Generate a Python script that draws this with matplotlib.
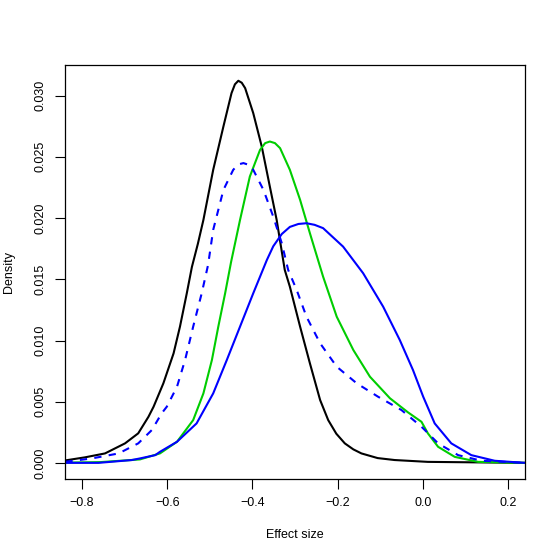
import matplotlib
matplotlib.use('Agg')
import matplotlib.pyplot as plt

plt.rcParams['font.family'] = ['Liberation Sans', 'DejaVu Sans']

# density curves (effect size, density)
black_x = [-0.839, -0.793, -0.746, -0.699, -0.668, -0.644, -0.632, -0.609, -0.585,
           -0.570, -0.554, -0.542, -0.528, -0.515, -0.492, -0.468, -0.449, -0.441,
           -0.433, -0.425, -0.417, -0.398, -0.378, -0.359, -0.343, -0.324, -0.312,
           -0.288, -0.265, -0.241, -0.222, -0.203, -0.183, -0.163, -0.144, -0.106,
           -0.066, 0.012, 0.239]
black_y = [0.00022, 0.00047, 0.00079, 0.00161, 0.00243, 0.00378, 0.0046, 0.00651, 0.00896,
           0.01114, 0.01386, 0.01601, 0.0179, 0.01985, 0.02394, 0.02748, 0.0302, 0.03092,
           0.03121, 0.03105, 0.03061, 0.02857, 0.02584, 0.02257, 0.01985, 0.01577, 0.0144,
           0.01114, 0.00815, 0.00515, 0.00351, 0.0024, 0.00161, 0.00112, 0.00079, 0.00041,
           0.00025, 0.0001, 0.00002]

green_x = [-0.839, -0.757, -0.664, -0.617, -0.577, -0.539, -0.515, -0.495, -0.480,
           -0.464, -0.450, -0.429, -0.406, -0.382, -0.370, -0.359, -0.347, -0.335,
           -0.312, -0.288, -0.265, -0.234, -0.202, -0.163, -0.124, -0.077, -0.035,
           -0.003, 0.012, 0.036, 0.075, 0.130, 0.239]
green_y = [0.00004, 0.00008, 0.0003, 0.00079, 0.00174, 0.00351, 0.00569, 0.00842, 0.01114,
           0.01386, 0.01642, 0.01985, 0.02339, 0.02557, 0.02612, 0.02625, 0.02612, 0.02571,
           0.02394, 0.02149, 0.01877, 0.01522, 0.01195, 0.00923, 0.00705, 0.00529, 0.00415,
           0.00337, 0.00243, 0.00133, 0.00051, 0.0001, 0.00002]

blue_x = [-0.839, -0.761, -0.683, -0.664, -0.628, -0.617, -0.577, -0.531, -0.492,
          -0.460, -0.429, -0.398, -0.366, -0.351, -0.331, -0.312, -0.292, -0.273,
          -0.254, -0.234, -0.187, -0.140, -0.093, -0.054, -0.023, 0.001, 0.028,
          0.067, 0.114, 0.169, 0.239]
blue_y = [0.00002, 0.00002, 0.00025, 0.00038, 0.00065, 0.00092, 0.00174, 0.00324, 0.00569,
          0.00842, 0.01114, 0.01386, 0.01658, 0.0177, 0.0187, 0.01928, 0.01952, 0.01958,
          0.01945, 0.01918, 0.01767, 0.0155, 0.01277, 0.01005, 0.0076, 0.00542, 0.00324,
          0.00161, 0.00065, 0.00019, 0.00002]

dashed_x = [-0.839, -0.777, -0.714, -0.668, -0.636, -0.613, -0.601, -0.577, -0.558,
            -0.539, -0.519, -0.504, -0.492, -0.468, -0.445, -0.433, -0.421, -0.409,
            -0.398, -0.374, -0.351, -0.331, -0.316, -0.296, -0.273, -0.241, -0.202,
            -0.155, -0.105, -0.050, -0.003, 0.036, 0.083, 0.138, 0.239]
dashed_y = [0.00011, 0.00038, 0.00079, 0.00161, 0.0027, 0.00406, 0.0046, 0.00623, 0.00842,
            0.01114, 0.01386, 0.01618, 0.01904, 0.0223, 0.02394, 0.02438, 0.02449, 0.02435,
            0.02394, 0.0223, 0.02012, 0.01795, 0.01577, 0.01413, 0.01195, 0.00978, 0.00787,
            0.00651, 0.00542, 0.00433, 0.00297, 0.00161, 0.00065, 0.00019, 0.00002]

x_ticks = [-0.8, -0.6, -0.4, -0.2, 0.0, 0.2]
y_ticks = [0.000, 0.005, 0.010, 0.015, 0.020, 0.025, 0.030]


def main():
    fig = plt.figure(figsize=(5.6, 5.6), dpi=100)
    ax = fig.add_axes([0.116, 0.1446, 0.8215, 0.7394])

    line_style = dict(lw=1.5, solid_joinstyle='round', dash_joinstyle='round')
    ax.plot(black_x, black_y, color='black', **line_style)
    ax.plot(green_x, green_y, color='#00CD00', **line_style)
    ax.plot(blue_x, blue_y, color='#0000FF', **line_style)
    ax.plot(dashed_x, dashed_y, color='#0000FF', linestyle=(0, (3.5, 3.5)), **line_style)

    ax.set_xlim(-0.84, 0.24)
    ax.set_ylim(-0.0013, 0.0325)
    ax.set_xticks(x_ticks)
    ax.set_xticklabels(['\u22120.8', '\u22120.6', '\u22120.4', '\u22120.2', '0.0', '0.2'])
    ax.set_yticks(y_ticks)
    ax.set_yticklabels(['%.3f' % v for v in y_ticks], rotation=90, va='center')
    ax.tick_params(direction='out', length=7, width=0.8, labelsize=9, pad=6,
                   top=False, right=False)
    for spine in ax.spines.values():
        spine.set_linewidth(0.9)

    ax.set_xlabel('Effect size', fontsize=9, labelpad=14)
    ax.set_ylabel('Density', fontsize=9, labelpad=14)

    fig.savefig('out.png', dpi=100)


if __name__ == '__main__':
    main()
